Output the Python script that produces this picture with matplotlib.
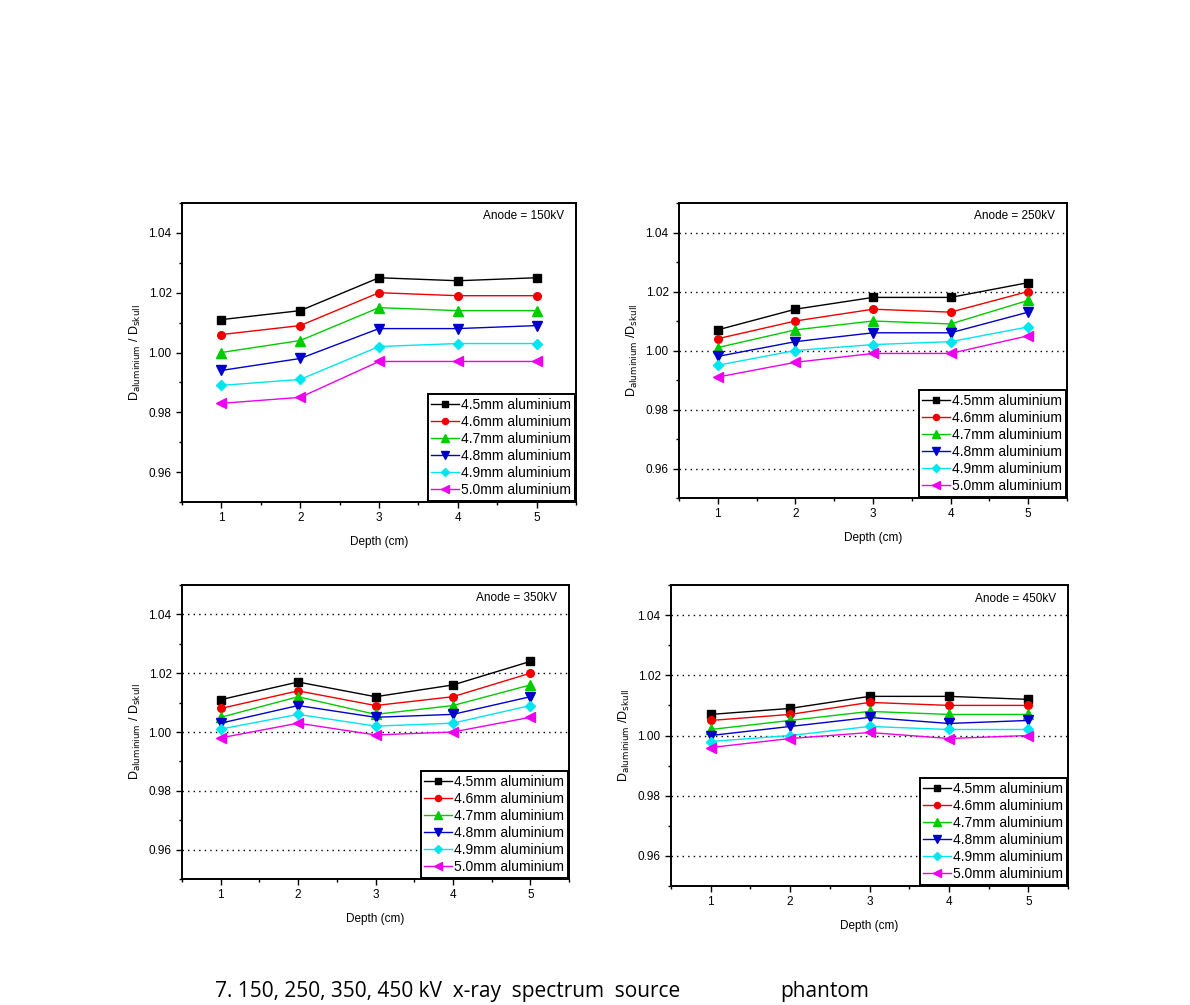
import matplotlib
matplotlib.use('Agg')
import matplotlib.pyplot as plt
from matplotlib.ticker import MultipleLocator

plt.rcParams['font.family'] = ['Liberation Sans', 'DejaVu Sans']

depth = [1, 2, 3, 4, 5]
labels = ['4.5mm aluminium', '4.6mm aluminium', '4.7mm aluminium',
          '4.8mm aluminium', '4.9mm aluminium', '5.0mm aluminium']
anodes = ['150kV', '250kV', '350kV', '450kV']

# ratio D_aluminium / D_skull, one list per filter thickness
kv150 = [
    [1.011, 1.014, 1.025, 1.024, 1.025],
    [1.006, 1.009, 1.020, 1.019, 1.019],
    [1.000, 1.004, 1.015, 1.014, 1.014],
    [0.994, 0.998, 1.008, 1.008, 1.009],
    [0.989, 0.991, 1.002, 1.003, 1.003],
    [0.983, 0.985, 0.997, 0.997, 0.997],
]
kv250 = [
    [1.007, 1.014, 1.018, 1.018, 1.023],
    [1.004, 1.010, 1.014, 1.013, 1.020],
    [1.001, 1.007, 1.010, 1.009, 1.017],
    [0.998, 1.003, 1.006, 1.006, 1.013],
    [0.995, 1.000, 1.002, 1.003, 1.008],
    [0.991, 0.996, 0.999, 0.999, 1.005],
]
kv350 = [
    [1.011, 1.017, 1.012, 1.016, 1.024],
    [1.008, 1.014, 1.009, 1.012, 1.020],
    [1.005, 1.012, 1.006, 1.009, 1.016],
    [1.003, 1.009, 1.005, 1.006, 1.012],
    [1.001, 1.006, 1.002, 1.003, 1.009],
    [0.998, 1.003, 0.999, 1.000, 1.005],
]
kv450 = [
    [1.007, 1.009, 1.013, 1.013, 1.012],
    [1.005, 1.007, 1.011, 1.010, 1.010],
    [1.002, 1.005, 1.008, 1.007, 1.007],
    [1.000, 1.003, 1.006, 1.004, 1.005],
    [0.998, 1.000, 1.003, 1.002, 1.002],
    [0.996, 0.999, 1.001, 0.999, 1.000],
]
datasets = [kv150, kv250, kv350, kv450]

colors = ['black', '#ee0000', '#00cc00', '#0000cc', '#00e5ee', '#ee00ee']
markers = ['s', 'o', '^', 'v', 'D', '<']
msizes = [5.5, 5.5, 6.5, 6.5, 5.5, 6.5]

W, H = 1190, 1005
fig = plt.figure(figsize=(W / 100, H / 100), dpi=100)

# pixel boxes: left, top, right, bottom
boxes = [(182, 203, 576, 502), (679, 203, 1067, 498),
         (182, 585, 569, 879), (671, 585, 1068, 886)]
ylabels = [r'D$_{\mathrm{aluminium}}$ / D$_{\mathrm{skull}}$',
           r'D$_{\mathrm{aluminium}}$ /D$_{\mathrm{skull}}$',
           r'D$_{\mathrm{aluminium}}$ / D$_{\mathrm{skull}}$',
           r'D$_{\mathrm{aluminium}}$ /D$_{\mathrm{skull}}$']

for i, (data, box) in enumerate(zip(datasets, boxes)):
    l, t, r, b = box
    ax = fig.add_axes([l / W, 1 - b / H, (r - l) / W, (b - t) / H])
    for j, series in enumerate(data):
        ax.plot(depth, series, color=colors[j], marker=markers[j],
                ms=msizes[j], lw=1.0, label=labels[j])
    ax.set_xlim(0.5, 5.5)
    ax.set_ylim(0.95, 1.05)
    ax.set_yticks([0.96, 0.98, 1.00, 1.02, 1.04])
    ax.xaxis.set_minor_locator(MultipleLocator(0.5))
    ax.yaxis.set_minor_locator(MultipleLocator(0.01))
    ax.tick_params(which='both', direction='out', labelsize=8.5)
    ax.tick_params(which='major', length=4, width=1)
    ax.tick_params(which='minor', length=2.5, width=1)
    for s in ax.spines.values():
        s.set_linewidth(1.4)
    if i > 0:
        ax.grid(axis='y', which='major', linestyle=(0, (1, 3)),
                color='black', lw=1.0)
    ax.set_xlabel('Depth (cm)', fontsize=8.5, labelpad=8)
    ax.set_ylabel(ylabels[i], fontsize=9)
    ax.text(0.97, 0.975, 'Anode = ' + anodes[i], transform=ax.transAxes,
            ha='right', va='top', fontsize=8.5)
    leg = ax.legend(loc='lower right', fontsize=10, fancybox=False,
                    framealpha=1, edgecolor='black', borderaxespad=0.1,
                    handlelength=2.0, handletextpad=0.15, labelspacing=0.22,
                    borderpad=0.25, markerscale=0.8)
    leg.get_frame().set_linewidth(1.4)

fig.text(215 / W, 1 - 997 / H,
         '7. 150, 250, 350, 450 kV  x-ray  spectrum  source',
         fontsize=15, family=['Open Sans', 'DejaVu Sans'], va='baseline')
fig.text(780 / W, 1 - 997 / H, 'phantom',
         fontsize=15, family=['Open Sans', 'DejaVu Sans'], va='baseline')

fig.savefig('out.png', dpi=100)
